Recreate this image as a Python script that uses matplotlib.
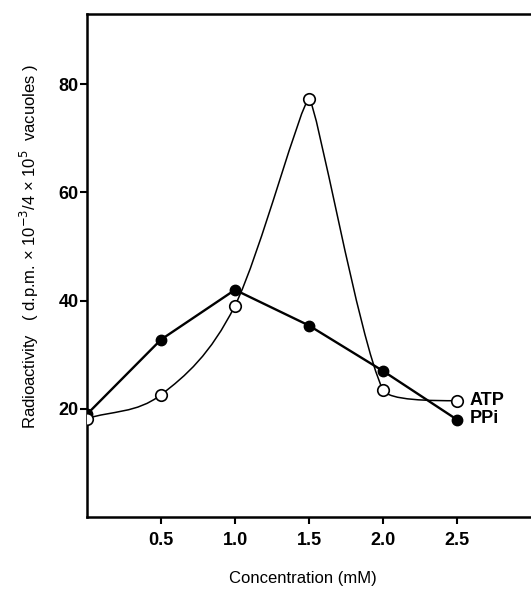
import numpy as np
import matplotlib
matplotlib.use("Agg")
import matplotlib.pyplot as plt
from matplotlib.path import Path
from matplotlib.patches import PathPatch

# Data
conc = [0.0, 0.5, 1.0, 1.5, 2.0, 2.5]
atp = [18.2, 22.6, 39.1, 77.2, 23.5, 21.5]
ppi = [19.0, 32.8, 42.0, 35.4, 27.0, 18.0]
xticks = [0.5, 1.0, 1.5, 2.0, 2.5]
yticks = [20, 40, 60, 80]

plt.rcParams["font.family"] = ["Liberation Sans", "DejaVu Sans"]


def smooth_path(x, y):
    # smooth curve through the points: averaged tangents, flat at the extrema,
    # Bezier handles clamped so a segment does not overshoot
    x = np.asarray(x, float)
    y = np.asarray(y, float)
    h = np.diff(x)
    dy = np.diff(y)
    d = dy / h
    m = np.zeros_like(y)
    m[0] = d[0]
    m[-1] = 0.0
    peak = np.zeros(len(y), bool)
    for i in range(1, len(y) - 1):
        if d[i - 1] * d[i] <= 0:
            peak[i] = True
        else:
            m[i] = 0.5 * (d[i - 1] + d[i])
    verts = [(x[0], y[0])]
    codes = [Path.MOVETO]
    for i in range(len(h)):
        a = h[i] / (10 if peak[i] else 3)
        b = h[i] / (10 if peak[i + 1] else 3)
        if m[i] != 0:
            a = min(a, abs(dy[i] / m[i]))
        if m[i + 1] != 0:
            b = min(b, abs(dy[i] / m[i + 1]))
        verts += [(x[i] + a, y[i] + m[i] * a),
                  (x[i + 1] - b, y[i + 1] - m[i + 1] * b),
                  (x[i + 1], y[i + 1])]
        codes += [Path.CURVE4] * 3
    return Path(verts, codes)


fig = plt.figure(figsize=(5.31, 5.90), dpi=100)
ax = fig.add_axes([87 / 531, 73 / 590, 444 / 531, 503 / 590])

ax.plot(conc, ppi, "-", color="black", lw=1.7, zorder=3)
ax.plot(conc, ppi, "o", color="black", ms=7.5, zorder=4)
ax.add_patch(PathPatch(smooth_path(conc, atp), fill=False, edgecolor="black",
                       lw=1.1, zorder=3))
ax.plot(conc, atp, "o", mfc="white", mec="black", mew=1.2, ms=8.3, zorder=5)

ax.annotate("ATP", (conc[-1], atp[-1]), xytext=(9, 0), textcoords="offset points",
            va="center", ha="left", fontsize=13, fontweight="bold")
ax.annotate("PPi", (conc[-1], ppi[-1]), xytext=(9, 1), textcoords="offset points",
            va="center", ha="left", fontsize=13, fontweight="bold")

ax.set_xlim(0, 3.0)
ax.set_ylim(0, 93)
ax.set_xticks(xticks)
ax.set_xticklabels([f"{t:.1f}" for t in xticks])
ax.set_yticks(yticks)
for lab in ax.get_xticklabels() + ax.get_yticklabels():
    lab.set_fontweight("bold")
    lab.set_fontsize(13)
ax.tick_params(direction="out", length=5, width=1.5)
ax.tick_params(axis="x", pad=6)
ax.tick_params(axis="y", pad=1)

ax.spines["right"].set_visible(False)
for s in ("left", "top", "bottom"):
    ax.spines[s].set_linewidth(1.8)

fig.text(303 / 531, 1 - 578 / 590, "Concentration (mM)", ha="center", va="center",
         fontsize=12)
fig.text(29 / 531, 1 - 246 / 590,
         "Radioactivity   ( d.p.m. \u00d7 10$^{-3}$/4 \u00d7 10$^{5}$  vacuoles )",
         rotation=90, ha="center", va="center", fontsize=12)

fig.savefig("out.png", dpi=100)
